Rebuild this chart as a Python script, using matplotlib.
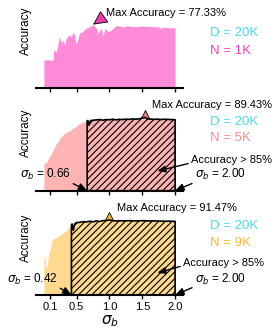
import matplotlib
matplotlib.use("Agg")
import matplotlib.pyplot as plt
import numpy as np

plt.rcParams['font.family'] = ['Liberation Sans', 'DejaVu Sans']
plt.rcParams['mathtext.fontset'] = 'custom'
plt.rcParams['mathtext.rm'] = 'Liberation Sans'
plt.rcParams['mathtext.it'] = 'DejaVu Sans:italic'
plt.rcParams['hatch.linewidth'] = 0.8

# ---- data ----
sigma_1k = [0.00, 0.14, 0.15, 0.19, 0.24, 0.27, 0.29, 0.32, 0.34, 0.38, 0.42, 0.44,
            0.46, 0.49, 0.51, 0.54, 0.59, 0.64, 0.70, 0.75, 0.80, 0.83, 0.86, 0.88,
            0.90, 0.93, 0.98, 1.03, 1.08, 1.13, 1.18, 1.23, 1.28, 1.33, 1.41, 1.48,
            1.56, 1.66, 1.74, 1.79, 1.82, 1.92, 2.00]
acc_1k = [34.2, 34.2, 46.4, 44.3, 62.6, 54.5, 58.6, 52.5, 60.6, 64.7, 62.6, 67.9,
          66.7, 54.5, 56.5, 66.7, 68.7, 72.8, 74.8, 77.33, 72.8, 66.7, 70.8, 72.8,
          62.6, 72.8, 68.7, 70.8, 74.8, 76.2, 74.8, 74.8, 76.2, 74.8, 74.8, 75.6,
          75.4, 74.8, 74.8, 72.3, 74.3, 73.5, 73.5]

sigma_5k = [0.00, 0.04, 0.07, 0.12, 0.14, 0.17, 0.19, 0.22, 0.24, 0.27, 0.29, 0.32,
            0.34, 0.36, 0.39, 0.41, 0.44, 0.46, 0.49, 0.51, 0.54, 0.56, 0.59, 0.61,
            0.66, 0.67, 0.69, 0.71, 0.75, 0.80, 0.85, 0.90, 0.95, 1.00, 1.05, 1.10,
            1.15, 1.20, 1.25, 1.30, 1.35, 1.40, 1.45, 1.50, 1.54, 1.58, 1.63, 1.68,
            1.73, 1.78, 1.83, 1.88, 1.93, 2.00]
acc_5k = [33.4, 34.2, 39.5, 45.6, 49.7, 53.7, 57.8, 59.8, 63.9, 65.9, 68.0, 70.0,
          70.8, 72.0, 73.2, 74.0, 76.1, 77.3, 78.1, 80.2, 81.4, 82.2, 83.0, 84.2,
          85.2, 85.6, 80.0, 85.4, 86.0, 86.3, 86.8, 86.0, 86.8, 86.5, 87.2, 86.4,
          87.0, 86.8, 87.2, 87.0, 87.6, 87.3, 87.6, 88.6, 89.43, 87.6, 87.3, 87.0,
          87.3, 86.8, 87.2, 87.0, 86.8, 86.6]

sigma_9k = [0.00, 0.02, 0.03, 0.05, 0.07, 0.10, 0.12, 0.14, 0.17, 0.19, 0.22, 0.24,
            0.27, 0.29, 0.32, 0.34, 0.36, 0.38, 0.42, 0.43, 0.45, 0.47, 0.50, 0.55,
            0.60, 0.65, 0.70, 0.75, 0.80, 0.85, 0.90, 0.95, 1.00, 1.05, 1.10, 1.15,
            1.20, 1.30, 1.40, 1.50, 1.60, 1.70, 1.80, 1.90, 2.00]
acc_9k = [45.9, 45.9, 33.7, 34.9, 48.0, 56.0, 66.0, 68.3, 69.0, 70.3, 72.4, 73.2,
          74.4, 75.6, 77.3, 78.4, 80.5, 82.1, 85.1, 86.6, 79.0, 86.8, 88.4, 88.6,
          89.4, 89.2, 89.9, 89.3, 90.3, 89.7, 90.6, 90.8, 91.47, 90.6, 90.3, 90.6,
          90.3, 90.6, 90.3, 90.6, 90.3, 90.3, 90.0, 90.0, 89.8]

n_labels = ["N = 1K", "N = 5K", "N = 9K"]
thresholds = [None, 0.66, 0.42]
ticks = [0.1, 0.5, 1.0, 1.5, 2.0]
tick_labels = ["0.1", "0.5", "1.0", "1.5", "2.0"]

fill_colors = ['#FF8AD8', '#FFB4B4', '#FFD98E']
text_colors = ['#FF3DB8', '#FF8A8A', '#FFB732']
marker_colors = ['#F03CB4', '#F77E7E', '#F5B030']
cyan = '#40E0F0'

series = [(sigma_1k, acc_1k), (sigma_5k, acc_5k), (sigma_9k, acc_9k)]
bottoms = [0.7333, 0.4221, 0.1061]
label_y = [0.70, 0.70, 0.70]

fig = plt.figure(figsize=(2.75, 3.3), dpi=100)

for i, (s, a) in enumerate(series):
    s = np.array(s)
    a = np.array(a)
    ax = fig.add_axes([0.1309, bottoms[i], 0.5345, 0.2485])
    ax.set_xlim(-0.12, 2.12)
    ax.set_ylim(0, 100)

    ax.fill_between(s, 0, a, color=fill_colors[i], lw=0, zorder=1)

    k = int(np.argmax(a))
    if i == 0:
        ax.annotate('', xy=(s[k], a[k]), xytext=(s[k] + 0.16, a[k] + 9),
                    arrowprops=dict(arrowstyle='-|>,head_width=0.45,head_length=0.9',
                                    fc=marker_colors[i], ec='k', lw=0.6,
                                    shrinkA=0, shrinkB=0), annotation_clip=False)
        ax.text(0.95, 91.5, "Max Accuracy = %.2f%%" % a[k], fontsize=8,
                va='center', ha='left')
    else:
        ax.plot(s[k], a[k] + 2, marker='^', ms=9, mfc=marker_colors[i], mec='k',
                mew=0.6, zorder=2, clip_on=False)
        thr = thresholds[i]
        m = s >= thr
        ax.fill_between(s, 0, a, where=m, facecolor=fill_colors[i], edgecolor='k',
                        hatch='/////', lw=1.2, zorder=3)
        ax.text([0, 1.645, 1.11][i], [0, 104.5, 106][i],
                "Max Accuracy = %.2f%%" % a[k], fontsize=8, va='center', ha='left')

        # threshold annotations
        ax.annotate(r'$\sigma_b$ = %.2f' % thr, xy=(thr, 0),
                    xytext=([0, -0.37, -0.565][i], 19.5), fontsize=8.5,
                    va='center', ha='left',
                    arrowprops=dict(arrowstyle='-|>,head_width=0.25,head_length=0.6',
                                    fc='k', ec='k', lw=1.0, shrinkA=0, shrinkB=0,
                                    relpos=(1.0, 0.0)),
                    annotation_clip=False)
        ax.annotate(r'$\sigma_b$ = %.2f' % 2.0, xy=(2.0, 0),
                    xytext=([0, 2.30, 2.30][i], 19.5), fontsize=8.5,
                    va='center', ha='left',
                    arrowprops=dict(arrowstyle='-|>,head_width=0.25,head_length=0.6',
                                    fc='k', ec='k', lw=1.0, shrinkA=0, shrinkB=0,
                                    relpos=(0.0, 0.0)),
                    annotation_clip=False)
        ax.annotate("Accuracy > 85%", xy=(1.73, [0, 24, 27][i]),
                    xytext=([0, 2.24, 2.12][i], [0, 37.5, 39.4][i]), fontsize=8,
                    va='center', ha='left',
                    arrowprops=dict(arrowstyle='-|>,head_width=0.25,head_length=0.6',
                                    fc='k', ec='k', lw=1.0, shrinkA=0, shrinkB=0,
                                    relpos=(0.0, 0.2)),
                    annotation_clip=False)

    ax.text(2.53, [67, 84, 84.5][i], "D = 20K", color=cyan, fontsize=9.5,
            va='center', ha='left')
    ax.text(2.53, [45, 64, 64][i], n_labels[i], color=text_colors[i], fontsize=9.5,
            va='center', ha='left')

    for sp in ['left', 'top', 'right']:
        ax.spines[sp].set_visible(False)
    ax.spines['bottom'].set_linewidth(1.5)
    ax.spines['bottom'].set_zorder(4)
    ax.set_yticks([])
    ax.set_xticks(ticks)
    ax.tick_params(axis='x', direction='out', length=3, width=1)
    if i == 2:
        ax.set_xticklabels(tick_labels, fontsize=8)
        ax.tick_params(axis='x', pad=2)
        ax.set_xlabel(r'$\sigma_b$', fontsize=11, labelpad=1)
    else:
        ax.set_xticklabels([])
    ax.set_ylabel("Accuracy", fontsize=8.5)
    ax.yaxis.set_label_coords(-0.03, label_y[i])

fig.savefig("out.png", dpi=100)
